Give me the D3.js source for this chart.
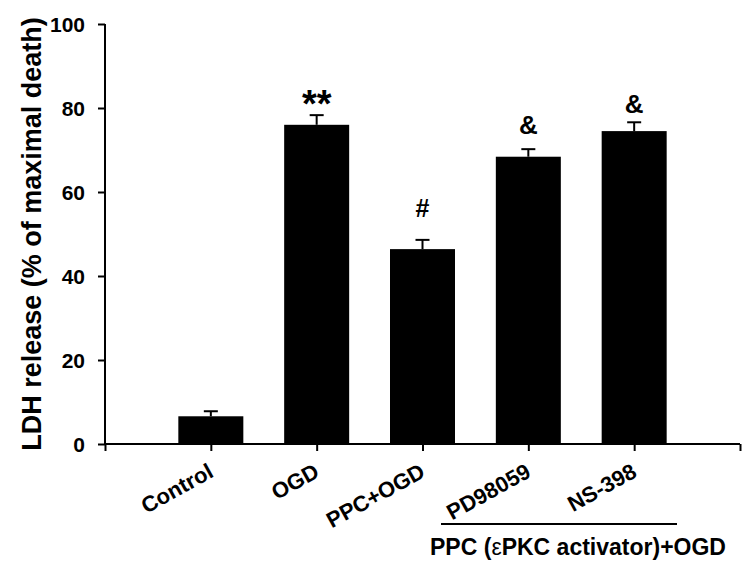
<!DOCTYPE html>
<html>
<head>
<meta charset="utf-8">
<script src="https://cdn.jsdelivr.net/npm/d3@7"></script>
<style>
  html, body { margin: 0; padding: 0; background: #fff; }
  svg text { font-family: Arial, "Liberation Sans", sans-serif; font-weight: bold; fill: #000; }
</style>
</head>
<body>
<svg id="chart" width="755" height="568"></svg>
<script>
const categories = ["Control", "OGD", "PPC+OGD", "PD98059", "NS-398"];
const values = [6.6, 76.0, 46.4, 68.4, 74.5];
const errors = [1.2, 2.3, 2.2, 1.8, 2.1];
const marks = ["", "**", "#", "&", "&"];
const markLevels = [null, 77.9, 54.0, 73.8, 78.8];
const yTicks = [0, 20, 40, 60, 80, 100];
const yTitle = "LDH release (% of maximal death)";
const groupLabel = ["PPC (", "\u03b5", "PKC activator)+OGD"];

const svg = d3.select("#chart");
const x0 = 105, x1 = 740, yTop = 24, yBot = 444;

const y = d3.scaleLinear().domain([0, 100]).range([yBot, yTop]);
const slots = d3.range(0, categories.length + 2);
const xPos = d3.scaleLinear().domain([0, categories.length + 1]).range([x0, x1]);
const barW = 65;

// bars
svg.append("g").selectAll("rect").data(categories).join("rect")
  .attr("x", (d, i) => xPos(i + 1) - barW / 2)
  .attr("y", (d, i) => y(values[i]))
  .attr("width", barW)
  .attr("height", (d, i) => yBot - y(values[i]))
  .attr("fill", "#000");

// error bars
const eg = svg.append("g").attr("stroke", "#000").attr("stroke-width", 2);
categories.forEach((c, i) => {
  const cx = xPos(i + 1);
  eg.append("line").attr("x1", cx).attr("x2", cx).attr("y1", y(values[i])).attr("y2", y(values[i] + errors[i]));
  eg.append("line").attr("x1", cx - 7).attr("x2", cx + 7).attr("y1", y(values[i] + errors[i])).attr("y2", y(values[i] + errors[i]));
});

// significance marks
const markSize = { "**": 38, "#": 25, "&": 26 };
svg.append("g").selectAll("text").data(marks).join("text")
  .attr("x", (d, i) => xPos(i + 1))
  .attr("y", (d, i) => markLevels[i] == null ? 0 : y(markLevels[i]))
  .attr("text-anchor", "middle")
  .style("font-size", d => (markSize[d] || 20) + "px")
  .text(d => d);

// y axis
const yAxis = svg.append("g").attr("transform", `translate(${x0},0)`)
  .call(d3.axisLeft(y).tickValues(yTicks).tickSize(7).tickPadding(13).tickFormat(d3.format("d")));
yAxis.selectAll("path, line").attr("stroke", "#000").attr("stroke-width", 2);
yAxis.select(".domain").attr("d", `M0,${yTop}V${yBot}`);
yAxis.selectAll("text").style("font-size", "21px").attr("dy", "0.36em");

// x axis
const xAxis = svg.append("g").attr("transform", `translate(0,${yBot})`)
  .call(d3.axisBottom(xPos).tickValues(slots).tickSize(7).tickFormat(""));
xAxis.selectAll("path, line").attr("stroke", "#000").attr("stroke-width", 2);
xAxis.select(".domain").attr("d", `M${x0},0H${x1}`);

// rotated category labels
svg.append("g").selectAll("text").data(categories).join("text")
  .attr("transform", (d, i) => `translate(${xPos(i + 1) + 4},${yBot + 32}) rotate(-29)`)
  .attr("text-anchor", "end")
  .style("font-size", "22px")
  .text(d => d);

// group bracket
svg.append("line").attr("x1", 441).attr("x2", 677).attr("y1", 524).attr("y2", 524)
  .attr("stroke", "#000").attr("stroke-width", 2);
const gl = svg.append("text").attr("x", 578).attr("y", 555).attr("text-anchor", "middle").style("font-size", "23px");
gl.append("tspan").text(groupLabel[0]);
gl.append("tspan").style("font-weight", "normal").text(groupLabel[1]);
gl.append("tspan").text(groupLabel[2]);

// y title
svg.append("text")
  .attr("transform", `translate(41,${(yTop + yBot) / 2}) rotate(-90)`)
  .attr("text-anchor", "middle")
  .style("font-size", "27px")
  .text(yTitle);
</script>
</body>
</html>
